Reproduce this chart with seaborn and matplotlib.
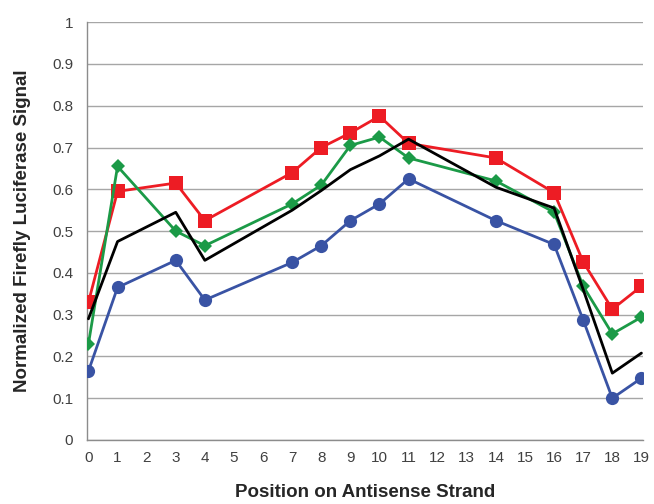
import matplotlib
matplotlib.use("Agg")
import matplotlib.pyplot as plt
import seaborn as sns
import pandas as pd

positions = [0, 1, 3, 4, 7, 8, 9, 10, 11, 14, 16, 17, 18, 19]

blue_vals = [0.165, 0.365, 0.43, 0.335, 0.425, 0.465, 0.525, 0.565, 0.625, 0.525, 0.468, 0.287, 0.10, 0.148]
red_vals = [0.33, 0.595, 0.615, 0.525, 0.64, 0.70, 0.735, 0.775, 0.71, 0.675, 0.592, 0.426, 0.313, 0.368]
green_vals = [0.23, 0.655, 0.50, 0.465, 0.565, 0.61, 0.705, 0.725, 0.675, 0.62, 0.545, 0.368, 0.254, 0.294]
black_vals = [0.29, 0.475, 0.545, 0.43, 0.55, 0.597, 0.647, 0.68, 0.72, 0.605, 0.555, 0.36, 0.16, 0.208]

x_ticks = list(range(0, 20))
y_ticks = [0, 0.1, 0.2, 0.3, 0.4, 0.5, 0.6, 0.7, 0.8, 0.9, 1]

sns.set_style("white")
plt.rcParams['font.family'] = ['Liberation Sans', 'DejaVu Sans']

fig = plt.figure(figsize=(6.54, 5.04), dpi=100)
ax = fig.add_axes([0.133, 0.127, 0.850, 0.829])

series = [
    (blue_vals, "#3953a4", "o", 9.5),
    (red_vals, "#ed1c24", "s", 10),
    (green_vals, "#1b9a47", "D", 7),
    (black_vals, "#000000", None, 0),
]

for vals, color, marker, ms in series:
    df = pd.DataFrame({"pos": positions, "val": vals})
    sns.lineplot(data=df, x="pos", y="val", ax=ax, color=color, linewidth=2.0,
                 marker=marker, markersize=ms, markeredgewidth=0, zorder=3)

ax.set_xlim(-0.05, 19.05)
ax.set_ylim(0, 1)
ax.set_xticks(x_ticks)
ax.set_yticks(y_ticks)
ax.set_yticklabels([f"{v:g}" for v in y_ticks])
ax.grid(axis="y", color="#a6a6a6", linewidth=1.0)
ax.set_axisbelow(True)

for s in ["top", "right"]:
    ax.spines[s].set_visible(False)
for s in ["left", "bottom"]:
    ax.spines[s].set_color("#8c8c8c")
    ax.spines[s].set_linewidth(1.0)

ax.tick_params(axis="both", direction="out", length=5, width=1, color="#8c8c8c",
               labelsize=11, labelcolor="#404040", pad=3)
ax.tick_params(axis="y", pad=5)

ax.set_xlabel("Position on Antisense Strand", fontsize=13.5, fontweight="bold")
ax.set_ylabel("Normalized Firefly Luciferase Signal", fontsize=13.5, fontweight="bold")
ax.xaxis.set_label_coords(0.5, -0.125)
ax.xaxis.label.set_va("center")
ax.yaxis.set_label_coords(-0.116, 0.5)
ax.yaxis.label.set_va("center")

fig.savefig("out.png", dpi=100)
